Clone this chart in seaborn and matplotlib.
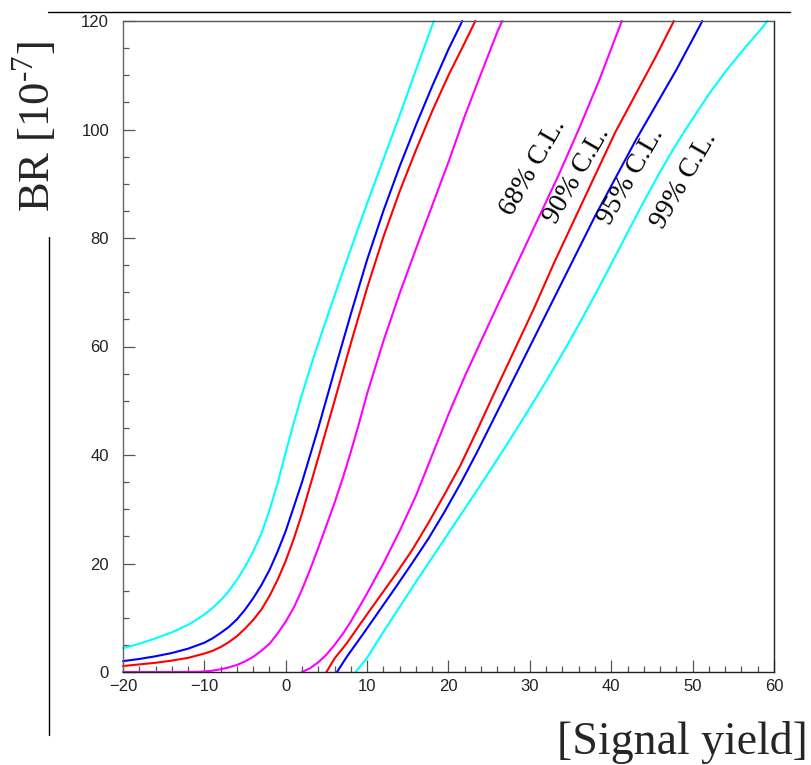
import matplotlib
matplotlib.use("Agg")
import matplotlib.pyplot as plt
from matplotlib.lines import Line2D
from matplotlib.ticker import MultipleLocator
import seaborn as sns

# Confidence belt for BR versus fitted signal yield.
# Upper edges of the belt (left branch), one per confidence level.
yield_99_up = [-20, -18, -16, -14, -12, -11, -10, -9, -8, -7, -6, -5, -4, -3, -2, -1, 0, 1, 2, 3, 4, 6, 8, 10, 12, 14, 16, 18.2]
br_99_up = [4.4, 5.2, 6.2, 7.3, 8.7, 9.6, 10.6, 11.8, 13.2, 14.9, 17.0, 19.4, 22.2, 25.5, 29.8, 34.8, 40.5, 46.0, 51.2, 56.0, 60.6, 69.4, 78.0, 86.4, 94.5, 102.6, 111.0, 120]

yield_95_up = [-20, -18, -16, -14, -12, -10, -9, -8, -7, -6, -5, -4, -3, -2, -1, 0, 2, 4, 6, 8, 10, 12, 14, 16, 18, 20, 21.7]
br_95_up = [2.0, 2.4, 2.9, 3.5, 4.3, 5.4, 6.2, 7.2, 8.3, 9.7, 11.5, 13.6, 16.0, 18.8, 22.2, 26.0, 35.0, 45.0, 55.6, 66.0, 76.0, 85.0, 93.2, 100.8, 108.0, 114.8, 120]

yield_90_up = [-20, -18, -16, -14, -12, -10, -9, -8, -7, -6, -5, -4, -3, -2, -1, 0, 1, 2, 4, 6, 8, 10, 12, 14, 16, 18, 20, 22, 23.3]
br_90_up = [1.1, 1.4, 1.7, 2.1, 2.6, 3.4, 3.9, 4.6, 5.5, 6.6, 8.0, 9.6, 11.5, 14.0, 17.0, 20.5, 24.6, 29.2, 39.5, 50.0, 60.6, 70.8, 80.2, 88.6, 96.2, 103.4, 110.0, 116.0, 120]

yield_68_up = [-20, -14, -11, -10, -9, -8, -7, -6, -5, -4, -3, -2, -1, 0, 1, 2, 3, 4, 5, 6, 7, 8, 9, 10, 12, 14, 16, 18, 20, 22, 24, 26, 26.6]
br_68_up = [0, 0, 0.03, 0.1, 0.25, 0.5, 0.85, 1.3, 1.95, 2.8, 3.9, 5.2, 7.1, 9.3, 11.9, 15.2, 18.9, 22.9, 27.0, 31.2, 35.7, 40.6, 45.8, 51.3, 61.0, 69.8, 78.0, 86.0, 94.0, 102.5, 110.3, 118.0, 120]

# Lower edges of the belt (right branch).
yield_68_lo = [2.0, 3.0, 4.0, 5.0, 6.0, 7.0, 8.0, 10.0, 12.0, 14.0, 16.0, 18.0, 20.0, 22.0, 24.0, 26.0, 28.5, 31.0, 33.5, 36.0, 38.5, 41.3]
br_68_lo = [0, 0.7, 1.8, 3.2, 5.0, 7.0, 9.3, 14.5, 20.0, 26.0, 32.5, 40.0, 47.5, 54.5, 61.0, 67.5, 75.5, 83.5, 91.5, 100.0, 109.0, 120]

yield_90_lo = [5.0, 6.0, 7.5, 9.5, 11.5, 13.5, 15.5, 17.5, 19.5, 21.5, 23.5, 25.5, 28.0, 30.5, 33.0, 35.5, 38.0, 40.5, 43.0, 45.5, 47.7]
br_90_lo = [0, 2.5, 5.3, 9.6, 13.8, 18.0, 22.4, 27.4, 32.7, 38.2, 44.5, 51.0, 59.0, 67.0, 75.5, 83.5, 91.5, 99.5, 106.5, 113.5, 120]

yield_95_lo = [6.3, 7.5, 9.5, 11.5, 13.5, 15.5, 17.5, 19.5, 21.5, 23.5, 25.5, 28.0, 30.5, 33.0, 35.5, 38.0, 40.5, 43.0, 45.5, 48.0, 51.2]
br_95_lo = [0, 2.8, 7.0, 11.3, 15.6, 20.0, 24.5, 29.5, 34.8, 40.5, 46.5, 54.0, 61.5, 69.0, 76.5, 84.0, 91.0, 98.0, 104.5, 111.0, 120]

yield_99_lo = [8.6, 10, 12, 14, 16, 18, 20, 22, 24, 26, 28, 30, 32, 34, 36, 38, 40, 42, 44, 46, 48, 50, 52, 54, 56, 58, 59.2]
br_99_lo = [0, 2.6, 7.4, 12.0, 16.6, 21.1, 25.6, 30.1, 34.6, 39.2, 43.9, 48.7, 53.6, 58.7, 64.0, 69.5, 75.2, 81.0, 86.7, 92.2, 97.3, 102.0, 106.5, 110.6, 114.3, 117.8, 120]

cl_labels = ["68% C.L.", "90% C.L.", "95% C.L.", "99% C.L."]
cl_colors = ["#ff00ff", "#ff0000", "#0000ff", "#00ffff"]
label_yield = [30.4, 35.8, 42.4, 49.0]
label_br = [93.1, 91.6, 91.3, 90.6]

x_ticks = [-20, -10, 0, 10, 20, 30, 40, 50, 60]
y_ticks = [0, 20, 40, 60, 80, 100, 120]

sns.set_theme(style="white")
plt.rcParams["font.family"] = ["Liberation Sans", "DejaVu Sans"]
plt.rcParams["mathtext.fontset"] = "custom"
plt.rcParams["mathtext.rm"] = "Liberation Serif"

fig = plt.figure(figsize=(8.12, 7.65), dpi=100)
ax = fig.add_axes([123 / 812, 93 / 765, 651 / 812, 651 / 765])

curves = [
    (yield_99_up, br_99_up, cl_colors[3]),
    (yield_95_up, br_95_up, cl_colors[2]),
    (yield_90_up, br_90_up, cl_colors[1]),
    (yield_68_up, br_68_up, cl_colors[0]),
    (yield_68_lo, br_68_lo, cl_colors[0]),
    (yield_90_lo, br_90_lo, cl_colors[1]),
    (yield_95_lo, br_95_lo, cl_colors[2]),
    (yield_99_lo, br_99_lo, cl_colors[3]),
]
for xs, ys, col in curves:
    sns.lineplot(x=xs, y=ys, ax=ax, color=col, lw=1.5, sort=False,
                 estimator=None, clip_on=False)

ax.set_xlim(-20, 60)
ax.set_ylim(0, 120)
ax.set_xticks(x_ticks)
ax.set_yticks(y_ticks)
ax.xaxis.set_minor_locator(MultipleLocator(2))
ax.yaxis.set_minor_locator(MultipleLocator(5))
ax.tick_params(which="major", direction="in", length=8.5, width=0.9,
               color="#555555", labelsize=12, labelcolor="#222222")
ax.tick_params(which="minor", direction="in", length=4.3, width=0.9,
               color="#555555")
ax.tick_params(axis="y", which="both", left=True, pad=10)
ax.tick_params(axis="x", which="both", bottom=True, pad=5)
for side, col in [("left", "#666666"), ("top", "#555555"),
                  ("right", "#222222"), ("bottom", "#222222")]:
    ax.spines[side].set_color(col)
    ax.spines[side].set_linewidth(1.0)
ax.grid(False)

# Confidence-level labels placed along the right branch
for txt, xv, yv in zip(cl_labels, label_yield, label_br):
    ax.text(xv, yv, txt, rotation=60, ha="center", va="center",
            rotation_mode="anchor", fontsize=20,
            family="Liberation Serif", color="black")

# Axis titles
fig.text(35 / 812, 1 - 127 / 765, "BR [10$^{\\mathregular{\u2010}7}$]",
         rotation=90, ha="center", va="center", fontsize=32,
         family="Liberation Serif")
fig.text(808 / 812, 1 - 742 / 765, "[Signal yield]", ha="right",
         va="center", fontsize=33, family="Liberation Serif")

# Frame rules around the pad
fig.add_artist(Line2D([48 / 812, 790 / 812], [1 - 12 / 765, 1 - 12 / 765],
                      color="black", lw=1.0, transform=fig.transFigure))
fig.add_artist(Line2D([49 / 812, 49 / 812], [1 - 237 / 765, 1 - 735 / 765],
                      color="black", lw=1.0, transform=fig.transFigure))

fig.savefig("out.png", dpi=100, facecolor="white")
